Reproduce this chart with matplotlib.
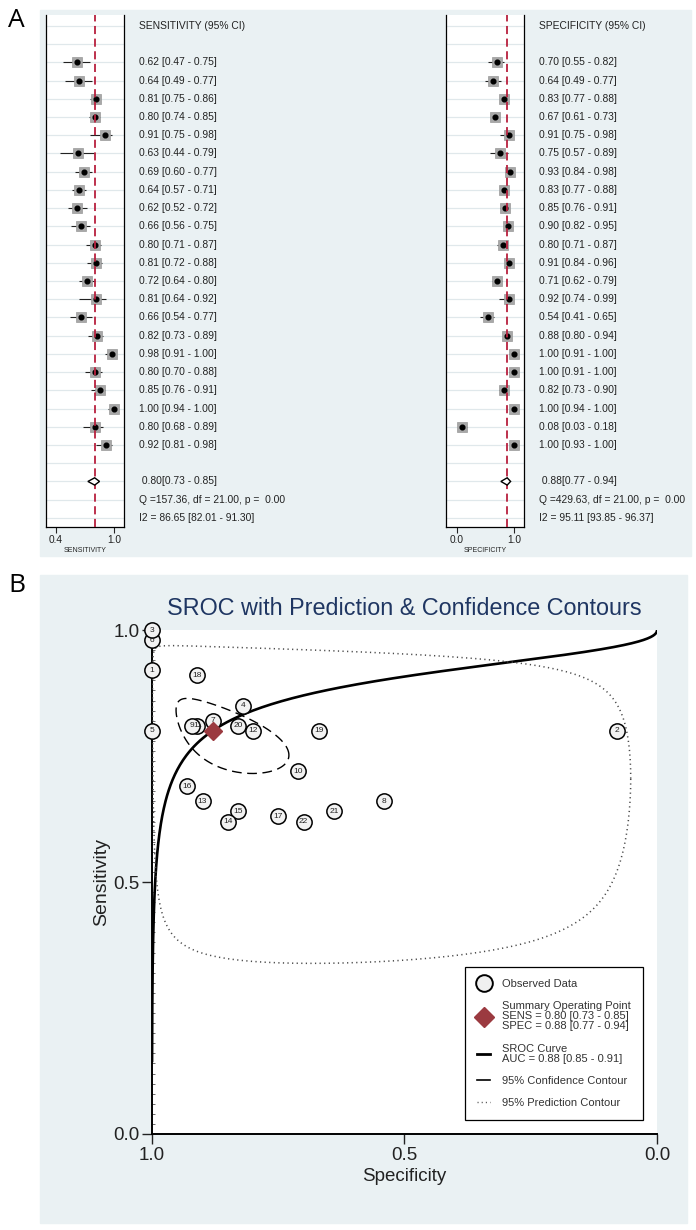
import numpy as np
import matplotlib
matplotlib.use('Agg')
import matplotlib.pyplot as plt
from matplotlib.lines import Line2D
from matplotlib.patches import Rectangle, Polygon
from matplotlib.ticker import MultipleLocator
import matplotlib.transforms as mtransforms

plt.rcParams['font.family'] = ['Liberation Sans', 'DejaVu Sans']

# study level estimates, in the order of the forest plots
sens    = [0.62, 0.64, 0.81, 0.80, 0.91, 0.63, 0.69, 0.64, 0.62, 0.66, 0.80,
           0.81, 0.72, 0.81, 0.66, 0.82, 0.98, 0.80, 0.85, 1.00, 0.80, 0.92]
sens_lo = [0.47, 0.49, 0.75, 0.74, 0.75, 0.44, 0.60, 0.57, 0.52, 0.56, 0.71,
           0.72, 0.64, 0.64, 0.54, 0.73, 0.91, 0.70, 0.76, 0.94, 0.68, 0.81]
sens_hi = [0.75, 0.77, 0.86, 0.85, 0.98, 0.79, 0.77, 0.71, 0.72, 0.75, 0.87,
           0.88, 0.80, 0.92, 0.77, 0.89, 1.00, 0.88, 0.91, 1.00, 0.89, 0.98]
spec    = [0.70, 0.64, 0.83, 0.67, 0.91, 0.75, 0.93, 0.83, 0.85, 0.90, 0.80,
           0.91, 0.71, 0.92, 0.54, 0.88, 1.00, 1.00, 0.82, 1.00, 0.08, 1.00]
spec_lo = [0.55, 0.49, 0.77, 0.61, 0.75, 0.57, 0.84, 0.77, 0.76, 0.82, 0.71,
           0.84, 0.62, 0.74, 0.41, 0.80, 0.91, 0.91, 0.73, 0.94, 0.03, 0.93]
spec_hi = [0.82, 0.77, 0.88, 0.73, 0.98, 0.89, 0.98, 0.88, 0.91, 0.95, 0.87,
           0.96, 0.79, 0.99, 0.65, 0.94, 1.00, 1.00, 0.90, 1.00, 0.18, 1.00]
# numbers shown on the SROC plot for the same studies
study_no = [22, 21, 20, 19, 18, 17, 16, 15, 14, 13, 12,
            11, 10, 9, 8, 7, 6, 5, 4, 3, 2, 1]

sens_pool = (0.80, 0.73, 0.85)
spec_pool = (0.88, 0.77, 0.94)
auc = (0.88, 0.85, 0.91)
sens_q = 'Q =157.36, df = 21.00, p =  0.00'
sens_i2 = 'I2 = 86.65 [82.01 - 91.30]'
spec_q = 'Q =429.63, df = 21.00, p =  0.00'
spec_i2 = 'I2 = 95.11 [93.85 - 96.37]'

# bivariate model on the logit scale (x = logit FPR, y = logit sens)
sroc_a, sroc_b = 2.285, 0.451
conf_sx, conf_sy, conf_r = 0.41, 0.19, -0.6
pred_sx, pred_sy, pred_r = 2.0, 0.84, -0.25

W, H = 696, 1230
fig = plt.figure(figsize=(W / 100, H / 100), dpi=100)
bg = '#eaf1f3'
fig.add_artist(Rectangle((40 / W, 1 - 556 / H), 651 / W, 546 / H, transform=fig.transFigure,
                         color=bg, zorder=-10))
fig.add_artist(Rectangle((40 / W, 1 - 1223 / H), 647 / W, 648 / H, transform=fig.transFigure,
                         color=bg, zorder=-10))
fig.text(8 / W, 1 - 27 / H, 'A', fontsize=19, va='baseline', family=['Open Sans', 'DejaVu Sans'])
fig.text(8 / W, 1 - 592 / H, 'B', fontsize=19, va='baseline', family=['Open Sans', 'DejaVu Sans'])


def logit(p):
    return np.log(p / (1 - p))


def expit(z):
    return 1 / (1 + np.exp(-z))


def forest(left, est, lo, hi, pool, q, i2, head, xlab, xlim, ticks):
    ax = fig.add_axes([left / W, 1 - 527 / H, 78 / W, 512 / H])
    ax.set_facecolor('white')
    rows = np.arange(1, len(est) + 1)
    for r in range(-1, 27):
        ax.axhline(r, color='#e0e8eb', lw=0.9, zorder=0)
    ax.hlines(rows, lo, hi, color='#222222', lw=0.8, zorder=2)
    ax.plot(est, rows, 's', ms=6.8, mfc='#a8a8a8', mec='#999999', mew=0.5, zorder=3)
    ax.plot(est, rows, 'o', ms=3.4, color='black', zorder=4)
    ax.axvline(pool[0], color='#b8203e', ls=(0, (4.5, 2.5)), lw=1.3, zorder=5)
    dia = Polygon([[pool[1], 24], [pool[0], 23.8], [pool[2], 24], [pool[0], 24.2]],
                  closed=True, fc='white', ec='black', lw=1.0, zorder=6)
    ax.add_patch(dia)
    ax.set_xlim(*xlim)
    ax.set_ylim(26.5, -1.6)
    ax.set_yticks([])
    ax.set_xticks(ticks)
    ax.set_xticklabels(['%.1f' % t for t in ticks])
    ax.tick_params(axis='x', length=4, width=0.8, labelsize=7.3, pad=2, colors='#222222')
    ax.spines['top'].set_visible(False)
    for s in ['left', 'right', 'bottom']:
        ax.spines[s].set_linewidth(0.9)
    ax.set_xlabel(xlab, fontsize=5, labelpad=1, color='#222222')
    tr = mtransforms.blended_transform_factory(ax.transAxes, ax.transData)
    tx = 1.192
    kw = dict(transform=tr, fontsize=7.4, va='center', ha='left', color='#222222', clip_on=False)
    ax.text(tx, -1, head, **kw)
    for r, e, l, h in zip(rows, est, lo, hi):
        ax.text(tx, r, '%.2f [%.2f - %.2f]' % (e, l, h), **kw)
    ax.text(tx, 24, ' %.2f[%.2f - %.2f]' % pool, **kw)
    ax.text(tx, 25, q, **kw)
    ax.text(tx, 26, i2, **kw)
    return ax


forest(46, sens, sens_lo, sens_hi, sens_pool, sens_q, sens_i2,
       'SENSITIVITY (95% CI)', 'SENSITIVITY', (0.297, 1.103), [0.4, 1.0])
forest(446, spec, spec_lo, spec_hi, spec_pool, spec_q, spec_i2,
       'SPECIFICITY (95% CI)', 'SPECIFICITY', (-0.193, 1.175), [0.0, 1.0])

# ---- SROC panel
ax = fig.add_axes([152 / W, 1 - 1134 / H, 505 / W, 504 / H])
ax.set_facecolor('white')
ax.set_xlim(1, 0)
ax.set_ylim(0, 1)

c95 = np.sqrt(5.991)
mu_fpr = logit(1 - spec_pool[0])
mu_sens = logit(sens_pool[0])

# SROC curve
t = np.linspace(-9, 9, 500)
ax.plot(1 - expit(t), expit(sroc_a + sroc_b * t), color='black', lw=1.9, zorder=3)

th = np.linspace(0, 2 * np.pi, 400)


def contour(sx, sy, r):
    lx = mu_fpr + c95 * sx * np.cos(th)
    ly = mu_sens + c95 * sy * (r * np.cos(th) + np.sqrt(1 - r ** 2) * np.sin(th))
    return 1 - expit(lx), expit(ly)


cx, cy = contour(conf_sx, conf_sy, conf_r)
ax.plot(cx, cy, color='black', lw=1.0, ls=(0, (7, 4)), zorder=3)
px, py = contour(pred_sx, pred_sy, pred_r)
ax.plot(px, py, color='#4a4a4a', lw=1.1, ls=(0, (0.8, 2.2)), zorder=3)

ax.plot(spec, sens, 'o', ms=11, mfc='#f2f2f2', mec='black', mew=1.1, zorder=5, clip_on=False)
for x, y, n in zip(spec, sens, study_no):
    ax.text(x, y, str(n), fontsize=6, ha='center', va='center', color='#222222', zorder=6, clip_on=False)
ax.plot(spec_pool[0], sens_pool[0], 'D', ms=9, color='#9b3a40', zorder=7)

ax.set_xticks([1.0, 0.5, 0.0])
ax.set_xticklabels(['1.0', '0.5', '0.0'])
ax.set_yticks([0.0, 0.5, 1.0])
ax.set_yticklabels(['0.0', '0.5', '1.0'])
ax.yaxis.set_minor_locator(MultipleLocator(0.02))
ax.tick_params(which='major', length=7, width=1.0, labelsize=13.5, pad=2, colors='#222222')
ax.tick_params(axis='y', which='minor', direction='in', length=2.5, width=0.6, color='#555555')
ax.spines['top'].set_visible(False)
ax.spines['right'].set_visible(False)
ax.spines['left'].set_linewidth(1.4)
ax.spines['bottom'].set_linewidth(1.4)
ax.set_xlabel('Specificity', fontsize=13.5, labelpad=3, color='#222222')
ax.set_ylabel('Sensitivity', fontsize=14, labelpad=2, color='#222222')
fig.text(404 / W, 1 - 608 / H, 'SROC with Prediction & Confidence Contours',
         fontsize=16.8, color='#1f3662', ha='center', va='center')

handles = [
    Line2D([], [], marker='o', ls='none', ms=12, mfc='#f0f0f0', mec='black', mew=1.4),
    Line2D([], [], marker='D', ls='none', ms=10, color='#9b3a40'),
    Line2D([], [], color='black', lw=2.0),
    Line2D([], [], color='black', lw=1.2),
    Line2D([], [], color='#555555', lw=1.0, ls=(0, (0.8, 2.2))),
]
labels = [
    'Observed Data',
    'Summary Operating Point\nSENS = %.2f [%.2f - %.2f]\nSPEC = %.2f [%.2f - %.2f]' % (sens_pool + spec_pool),
    'SROC Curve\nAUC = %.2f [%.2f - %.2f]' % auc,
    '95% Confidence Contour',
    '95% Prediction Contour',
]
leg = ax.legend(handles, labels, loc='lower right', bbox_to_anchor=(0.984, 0.016),
                fontsize=8.0, handlelength=1.2, handletextpad=1.1, borderpad=1.1,
                labelspacing=1.1, fancybox=False, edgecolor='black', framealpha=1)
leg.get_frame().set_linewidth(0.9)
for txt in leg.get_texts():
    txt.set_linespacing(1.0)
    txt.set_color('#333333')

fig.savefig('out.png', dpi=100)
